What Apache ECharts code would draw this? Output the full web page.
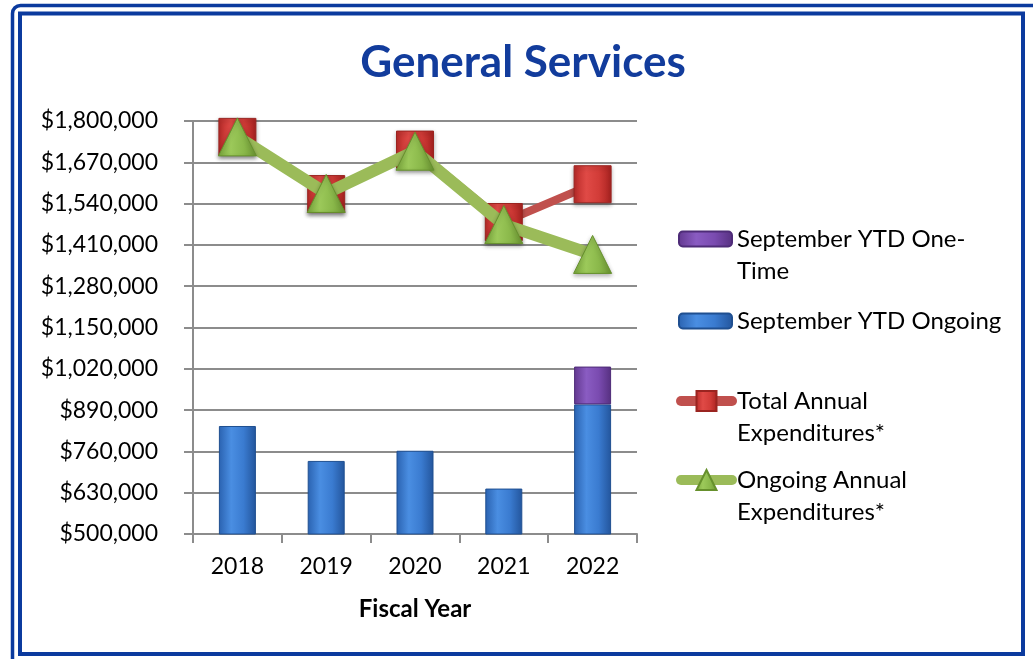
<!DOCTYPE html>
<html>
<head>
<meta charset="utf-8">
<style>
  html, body { margin: 0; padding: 0; background: #ffffff; }
  #chart { width: 1033px; height: 659px; }
</style>
<script src="https://cdn.jsdelivr.net/npm/echarts@6/dist/echarts.min.js"></script>
</head>
<body>
<div id="chart"></div>
<script>
// Fiscal years on the category axis
const years = ['2018', '2019', '2020', '2021', '2022'];

// September year-to-date spending, split into ongoing and one-time parts
const ytdOngoing = [840000, 730000, 762000, 643000, 908000];
const ytdOneTime = [0, 0, 0, 0, 119000];

// Full-year expenditure lines
const totalAnnual = [1750000, 1570000, 1710000, 1482000, 1601000];
const ongoingAnnual = [1750000, 1572000, 1705000, 1474000, 1380000];

// Value axis range and step
const axisMin = 500000;
const axisMax = 1800000;
const axisStep = 130000;

// Series names and their wrapped legend captions
const NAME_ONE_TIME = 'September YTD One-Time';
const NAME_ONGOING = 'September YTD Ongoing';
const NAME_TOTAL = 'Total Annual Expenditures*';
const NAME_ONGOING_ANNUAL = 'Ongoing Annual Expenditures*';
const captions = {
  [NAME_ONE_TIME]: ['September YTD One-', 'Time'],
  [NAME_ONGOING]: ['September YTD Ongoing'],
  [NAME_TOTAL]: ['Total Annual', 'Expenditures*'],
  [NAME_ONGOING_ANNUAL]: ['Ongoing Annual', 'Expenditures*']
};

const FONT = 'Lato';
const BLUE_FRAME = '#0b3a9e';

function hGrad(stops) {
  return {
    type: 'linear', x: 0, y: 0, x2: 1, y2: 0,
    colorStops: stops.map((c, i) => ({ offset: i / (stops.length - 1), color: c }))
  };
}

const blueFill = hGrad(['#2a62b0', '#4a8ee2', '#3a7bd0', '#23559c']);
const purpleFill = hGrad(['#62388f', '#8a5cc2', '#7a4bb0', '#563080']);
const redFill = hGrad(['#b82a28', '#e04a46', '#d23c38', '#a82220']);
const greenFill = hGrad(['#7aa83c', '#9cc95a', '#8ab84a', '#6c9632']);

// Two-line captions get an empty leading line so the first line sits level with the icon
function caption(name) {
  const lines = captions[name];
  return lines.length > 1 ? '\n' + lines.join('\n') : lines[0];
}

const legendText = { fontFamily: FONT, fontSize: 24, color: '#000', lineHeight: 32 };

const chart = echarts.init(document.getElementById('chart'));

chart.setOption({
  backgroundColor: '#ffffff',
  animation: false,
  title: {
    text: 'General Services',
    left: 523,
    textAlign: 'center',
    top: 41,
    padding: 0,
    textStyle: { fontFamily: FONT, fontSize: 44, fontWeight: 'bold', color: '#123c9c' }
  },
  graphic: [
    {
      type: 'rect', silent: true,
      shape: { x: 12.5, y: 5.5, width: 1030, height: 670, r: 8 },
      style: { fill: 'none', stroke: BLUE_FRAME, lineWidth: 3.5 }
    },
    {
      type: 'rect', silent: true,
      shape: { x: 20, y: 13.5, width: 1003, height: 640.5 },
      style: { fill: 'none', stroke: BLUE_FRAME, lineWidth: 4 }
    }
  ],
  grid: { left: 193, right: 396, top: 121, bottom: 125 },
  xAxis: {
    type: 'category',
    data: years,
    boundaryGap: true,
    name: 'Fiscal Year',
    nameLocation: 'middle',
    nameGap: 63,
    nameTextStyle: { fontFamily: FONT, fontSize: 24, fontWeight: 'bold', color: '#000' },
    axisLine: { lineStyle: { color: '#8c8c8c', width: 2 } },
    axisTick: { show: true, length: 9, lineStyle: { color: '#8c8c8c', width: 2 } },
    axisLabel: { fontFamily: FONT, fontSize: 23, color: '#000', margin: 21 }
  },
  yAxis: {
    type: 'value',
    min: axisMin,
    max: axisMax,
    interval: axisStep,
    axisLine: { show: true, lineStyle: { color: '#8c8c8c', width: 2 } },
    axisTick: { show: true, length: 9, lineStyle: { color: '#8c8c8c', width: 2 } },
    splitLine: { lineStyle: { color: '#8c8c8c', width: 2 } },
    axisLabel: {
      fontFamily: FONT, fontSize: 23, color: '#000', margin: 35,
      formatter: v => '$' + v.toLocaleString('en-US')
    }
  },
  legend: [
    {
      data: [NAME_ONE_TIME], formatter: caption,
      left: 678, top: 191, padding: 0,
      itemWidth: 53, itemHeight: 15,
      textStyle: legendText
    },
    {
      data: [NAME_ONGOING], formatter: caption,
      left: 678, top: 305, padding: 0,
      itemWidth: 53, itemHeight: 15,
      textStyle: legendText
    },
    {
      data: [NAME_TOTAL], formatter: caption,
      left: 676, top: 353, padding: 0,
      itemWidth: 51, itemHeight: 25,
      lineStyle: { width: 10, cap: 'round' },
      textStyle: legendText
    },
    {
      data: [NAME_ONGOING_ANNUAL], formatter: caption,
      left: 676, top: 432, padding: 0,
      itemWidth: 51, itemHeight: 25,
      lineStyle: { width: 10, cap: 'round' },
      textStyle: legendText
    }
  ],
  series: [
    {
      name: NAME_ONGOING,
      type: 'bar',
      stack: 'ytd',
      barWidth: 37,
      data: ytdOngoing,
      itemStyle: { color: blueFill, borderColor: '#1f4f90', borderWidth: 1 }
    },
    {
      name: NAME_ONE_TIME,
      type: 'bar',
      stack: 'ytd',
      barWidth: 37,
      data: ytdOneTime.map(v => v || '-'),
      itemStyle: { color: purpleFill, borderColor: '#4e2c78', borderWidth: 1 }
    },
    {
      name: NAME_TOTAL,
      type: 'line',
      data: totalAnnual,
      symbol: 'rect',
      symbolSize: 37,
      lineStyle: { color: '#c0504d', width: 8 },
      itemStyle: { color: redFill, borderColor: '#9a2420', borderWidth: 1, shadowBlur: 4, shadowColor: 'rgba(0,0,0,0.3)', shadowOffsetY: 2 },
      z: 3
    },
    {
      name: NAME_ONGOING_ANNUAL,
      type: 'line',
      data: ongoingAnnual,
      symbol: 'triangle',
      symbolSize: 38,
      lineStyle: { color: '#9bbb59', width: 12 },
      itemStyle: { color: greenFill, borderColor: '#66902c', borderWidth: 1, shadowBlur: 4, shadowColor: 'rgba(0,0,0,0.3)', shadowOffsetY: 2 },
      z: 4
    }
  ]
});
</script>
</body>
</html>
